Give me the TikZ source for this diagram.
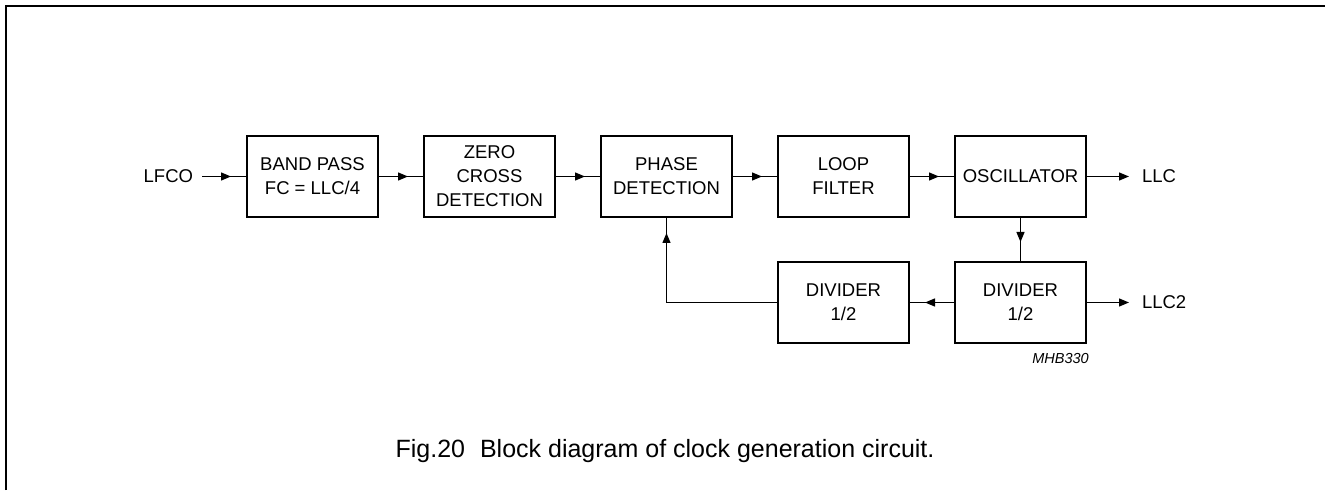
\documentclass[tikz,border=0pt]{standalone}
\usepackage{fontspec}
\setmainfont{Liberation Sans}
\usepackage{tikz}
\usetikzlibrary{arrows.meta,decorations.markings}

\tikzset{
  blk/.style={draw,line width=2pt,minimum width=131pt,minimum height=81pt,
    align=center,inner sep=2pt,font=\fontsize{18.5}{24}\selectfont},
  io/.style={inner sep=0pt,font=\fontsize{18.5}{24}\selectfont},
  wire/.style={line width=1.3pt},
  midtip/.style={wire,postaction={decorate},decoration={markings,
    mark=at position -#1 with {\arrow{Triangle[length=10pt,width=8pt]}}}},
  midtip/.default=15pt,
  endtip/.style={wire,-{Triangle[length=10pt,width=8pt]}}
}

\begin{document}
\begin{tikzpicture}[x=1pt,y=1pt]
    \useasboundingbox (0,0) rectangle (1325,490);
    % frame (open on the right and at the bottom)
    \draw[line width=2pt] (6,0) -- (6,484) -- (1325,484);

    % upper row
    \node[blk] (bp)  at (312.5,313.5) {BAND PASS\\FC = LLC/4};
    \node[blk] (zc)  at (489.5,313.5) {ZERO\\CROSS\\DETECTION};
    \node[blk] (pd)  at (666.5,313.5) {PHASE\\DETECTION};
    \node[blk] (lf)  at (843.5,313.5) {LOOP\\FILTER};
    \node[blk] (osc) at (1020.5,313.5) {OSCILLATOR};
    % lower row
    \node[blk] (div2) at (1020.5,187.5) {DIVIDER\\1/2};
    \node[blk] (div1) at (843.5,187.5) {DIVIDER\\1/2};

    % inputs and outputs
    \node[io,anchor=east,outer sep=9pt] (lfco) at (202,313.5) {LFCO};
    \node[io,anchor=west,outer sep=13pt] (llc)  at (1129,313.5) {LLC};
    \node[io,anchor=west,outer sep=13pt] (llc2) at (1129,187.5) {LLC2};

    \draw[midtip] (lfco) -- (bp);
    \draw[midtip] (bp) -- (zc);
    \draw[midtip] (zc) -- (pd);
    \draw[midtip] (pd) -- (lf);
    \draw[midtip] (lf) -- (osc);
    \draw[endtip] (osc) -- (llc);
    \draw[midtip=19pt] (osc) -- (div2);
    \draw[endtip] (div2) -- (llc2);
    \draw[midtip] (div2) -- (div1);
    \draw[midtip] (div1.west) -| (pd.south);

    \node[anchor=east,inner sep=0pt,font=\fontsize{14.5}{17}\selectfont\itshape] (code) at (1089,131) {MHB330};
    \node[anchor=base,inner sep=0pt,font=\fontsize{25}{30}\selectfont] (caption) at (665,33) {Fig.20\hspace{0.6em}Block diagram of clock generation circuit.};
\end{tikzpicture}
\end{document}
